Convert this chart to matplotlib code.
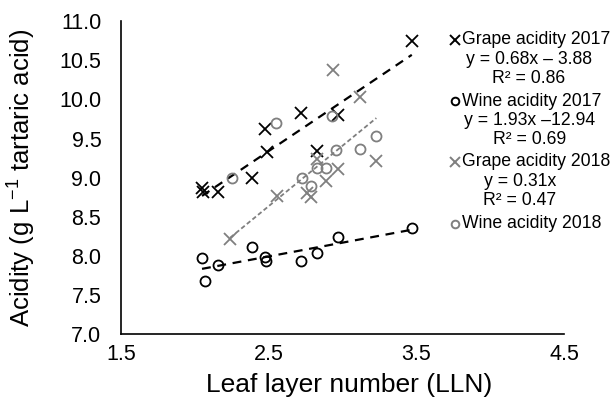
import numpy as np
import matplotlib
matplotlib.use("Agg")
import matplotlib.pyplot as plt

plt.rcParams['font.family'] = ['Liberation Sans', 'DejaVu Sans']
plt.rcParams['mathtext.fontset'] = 'custom'
plt.rcParams['mathtext.rm'] = 'Liberation Sans'

# leaf layer number and acidity values
grape17_x = [2.05, 2.06, 2.16, 2.39, 2.475, 2.49, 2.72, 2.83, 2.97, 3.47]
grape17_y = [8.87, 8.82, 8.82, 8.99, 9.62, 9.33, 9.83, 9.34, 9.80, 10.75]

wine17_x = [2.05, 2.07, 2.16, 2.39, 2.475, 2.48, 2.72, 2.83, 2.97, 3.47]
wine17_y = [7.97, 7.68, 7.88, 8.12, 7.99, 7.93, 7.94, 8.04, 8.24, 8.36]

grape18_x = [2.24, 2.56, 2.76, 2.79, 2.83, 2.89, 2.97, 2.94, 3.12, 3.23]
grape18_y = [8.22, 8.77, 8.81, 8.75, 9.24, 8.96, 9.11, 10.38, 10.03, 9.22]

wine18_x = [2.25, 2.55, 2.73, 2.79, 2.83, 2.89, 2.96, 2.93, 3.12, 3.23]
wine18_y = [8.99, 9.70, 9.00, 8.90, 9.13, 9.12, 9.36, 9.79, 9.37, 9.53]

labels = ["Grape acidity 2017", "Wine acidity 2017", "Grape acidity 2018", "Wine acidity 2018"]
equations = ["y = 0.68x \u2013 3.88\nR\u00b2 = 0.86",
             "y = 1.93x \u201312.94\nR\u00b2 = 0.69",
             "y = 0.31x\nR\u00b2 = 0.47",
             None]

xticks = [1.5, 2.5, 3.5, 4.5]
yticks = [7.0, 7.5, 8.0, 8.5, 9.0, 9.5, 10.0, 10.5, 11.0]

black = "#000000"
gray = "#7f7f7f"

fig = plt.figure(figsize=(6.13, 4.09), dpi=100)
ax = fig.add_axes([0.197, 0.183, 0.723, 0.765])

series = [
    (grape17_x, grape17_y, "x", black, True, (0, (4, 3)), 1.6),
    (wine17_x, wine17_y, "o", black, True, (0, (4, 3)), 1.6),
    (grape18_x, grape18_y, "x", gray, True, (0, (2.5, 1.5)), 1.3),
    (wine18_x, wine18_y, "o", gray, False, None, 0),
]

for xs, ys, mk, col, trend, ls, lw in series:
    xs = np.array(xs)
    ys = np.array(ys)
    if trend:
        k, b = np.polyfit(xs, ys, 1)
        xl = np.array([xs.min(), xs.max()])
        ax.plot(xl, k * xl + b, color=col, linestyle=ls, linewidth=lw, zorder=1)
    ms = 8.0 if mk == "x" else 7.2
    ax.plot(xs, ys, linestyle="none", marker=mk, markersize=ms,
            markerfacecolor="none", markeredgecolor=col, markeredgewidth=1.3, zorder=2)

ax.set_xlim(1.5, 4.5)
ax.set_ylim(7.0, 11.0)
ax.set_xticks(xticks)
ax.set_yticks(yticks)
ax.set_xticklabels([f"{v:.1f}" for v in xticks])
ax.set_yticklabels([f"{v:.1f}" for v in yticks])
ax.tick_params(length=0, labelsize=15.5)
ax.tick_params(axis="x", pad=7)
ax.tick_params(axis="y", pad=14)
for s in ["top", "right"]:
    ax.spines[s].set_visible(False)
for s in ["left", "bottom"]:
    ax.spines[s].set_linewidth(1.2)

ax.set_xlabel("Leaf layer number (LLN)", fontsize=19)
ax.set_ylabel("Acidity (g L$^{\\mathregular{\u22121}}$ tartaric acid)", fontsize=18.5)
ax.xaxis.set_label_coords(0.515, -0.125)
ax.yaxis.set_label_coords(-0.19, 0.5)

# legend block with equations, drawn in figure pixels
W, H = 613, 409
entry_y = [40, 101, 162, 224]
eq_cx = [529, 530, 520, None]
markers = [("x", black), ("o", black), ("x", gray), ("o", gray)]
for i, lab in enumerate(labels):
    mk, col = markers[i]
    yy = 1 - entry_y[i] / H
    fig.lines.append(plt.Line2D([455 / W], [yy], transform=fig.transFigure, marker=mk,
                                markersize=6.5 if mk == "x" else 5.5, markerfacecolor="none",
                                markeredgecolor=col, markeredgewidth=1.4, linestyle="none"))
    fig.text(462 / W, yy, lab, fontsize=12.7, va="center", ha="left")
    if equations[i]:
        fig.text(eq_cx[i] / W, 1 - (entry_y[i] + 29) / H, equations[i], fontsize=12.7,
                 va="center", ha="center", multialignment="center", linespacing=1.2)

fig.savefig("out.png", dpi=100)
